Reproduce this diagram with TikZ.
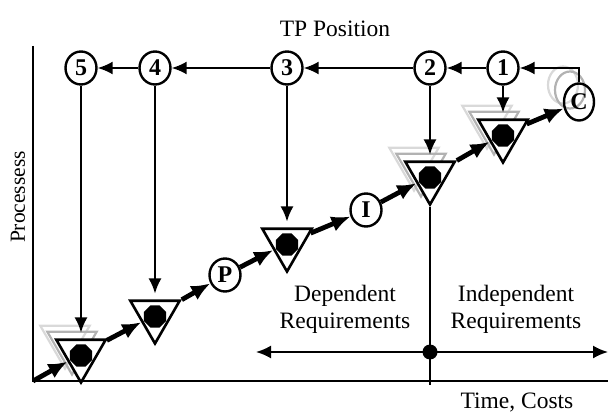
\documentclass[tikz,border=0pt]{standalone}
\usepackage{fontspec}
\setmainfont{Liberation Serif}
\usetikzlibrary{arrows.meta,positioning,calc,shapes.geometric,shadows}

\tikzset{
  station/.style={regular polygon,regular polygon sides=3,shape border rotate=180,
    draw,line width=2.6pt,fill=white,inner sep=0pt,minimum size=57pt},
  core/.style={regular polygon,regular polygon sides=8,fill=black,inner sep=0pt,minimum size=24pt},
  event/.style={ellipse,draw,line width=2.4pt,inner sep=0pt,minimum width=31pt,minimum height=33pt,
    font=\fontsize{24}{24}\selectfont\bfseries},
  ghosts/.style={general shadow={draw=gray!30,fill=none,line width=2.2pt,shadow xshift=-16pt,shadow yshift=14pt},
    general shadow={draw=gray!60,fill=none,line width=2.2pt,shadow xshift=-9pt,shadow yshift=8pt}},
  ghostrings/.style={general shadow={draw=gray!30,fill=none,line width=2.2pt,shadow xshift=-16pt,shadow yshift=17pt},
    general shadow={draw=gray!60,fill=none,line width=2.2pt,shadow xshift=-9pt,shadow yshift=12pt}},
  flow/.style={line width=4.8pt,-{Latex[length=19pt,width=16pt]}},
  link/.style={line width=1.9pt,-{Latex[length=15pt,width=13pt]}},
  dot/.style={circle,fill=black,inner sep=0pt,minimum size=15pt}
}

\begin{document}
\begin{tikzpicture}[x=1pt,y=1pt,font=\fontsize{23.5}{27}\selectfont]
\useasboundingbox (0,0) rectangle (608,413);
% axes
\coordinate (origin) at (33,32);
\coordinate (axtop) at (33,367);
\coordinate (axend) at (608,32);
\draw[line width=1.5pt] (axtop) -- (origin) -- (axend);
\node[rotate=90,font=\fontsize{21.5}{24}\selectfont] (ylabel) at (18,216) {Processess};
\node[anchor=base] (xlabel) at (517,5) {Time, Costs};
\node (tplabel) at (335,384) {TP Position};

% requirements split
\coordinate (spanL) at (256,61);
\coordinate (spanR) at (608,61);
\coordinate (cut) at (430,28);
\draw[line width=1.9pt,{Latex[length=15pt,width=13pt]}-{Latex[length=15pt,width=13pt]}] (spanL) -- (spanR);
\node[align=center] (dep) at (345,104) {Dependent\\Requirements};
\node[align=center] (indep) at (516,104) {Independent\\Requirements};

% stations
\node[station,ghosts] (tri5) at (81,59) {};
\node[station] (tri4) at (155,98) {};
\node[station] (tri3) at (287,170) {};
\node[station,ghosts] (tri2) at (430,237) {};
\node[station,ghosts] (tri1) at (503,279) {};
\foreach \i in {1,...,5}
  \node[core,yshift=-1.5pt] (core\i) at (tri\i) {};
\node[event] (P) at (225,138) {P};
\node[event] (I) at (366,203) {I};
\node[event,ghostrings,minimum width=30pt,minimum height=37pt] (C) at (579,311) {C};

\draw[line width=1.9pt] (tri2) -- (cut);
\node[dot] (split) at (430,61) {};

% TP positions
\foreach \i/\x in {5/81,4/155,3/287,2/430,1/503}
  \node[event] (n\i) at (\x,345) {\i};
\draw[link] (C.north) |- (n1);
\foreach \a/\b in {n1/n2,n2/n3,n3/n4,n4/n5}
  \draw[link] (\a) -- (\b);
\foreach \i in {1,...,5}
  \draw[link,shorten >=6pt] (n\i) -- (tri\i);

% process chain
\foreach \a/\b in {origin/tri5,tri5/tri4,tri4/P,P/tri3,tri3/I,I/tri2,tri2/tri1,tri1/C}
  \draw[flow] (\a) -- (\b);
\end{tikzpicture}
\end{document}
